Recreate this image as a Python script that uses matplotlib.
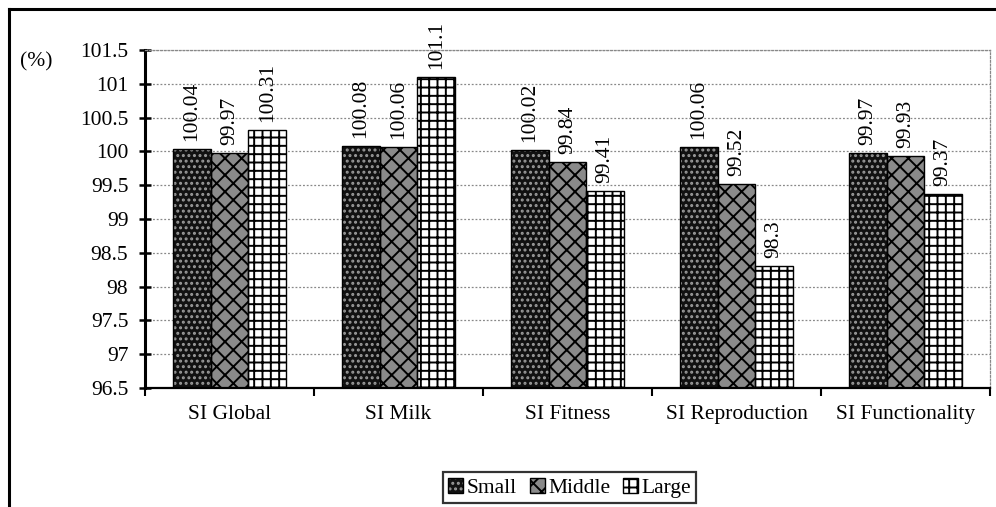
import matplotlib
matplotlib.use("Agg")
import matplotlib.pyplot as plt
import numpy as np
from matplotlib.lines import Line2D
from matplotlib.patches import Patch
from matplotlib.legend_handler import HandlerTuple

categories = ["SI Global", "SI Milk", "SI Fitness", "SI Reproduction", "SI Functionality"]
small = [100.04, 100.08, 100.02, 100.06, 99.97]
middle = [99.97, 100.06, 99.84, 99.52, 99.93]
large = [100.31, 101.1, 99.41, 98.3, 99.37]
series_names = ["Small", "Middle", "Large"]
y_ticks = [96.5, 97, 97.5, 98, 98.5, 99, 99.5, 100, 100.5, 101, 101.5]
y_tick_labels = ["96.5", "97", "97.5", "98", "98.5", "99", "99.5", "100", "100.5", "101", "101.5"]
value_labels = [["100.04", "100.08", "100.02", "100.06", "99.97"],
                ["99.97", "100.06", "99.84", "99.52", "99.93"],
                ["100.31", "101.1", "99.41", "98.3", "99.37"]]

plt.rcParams["font.family"] = ["Liberation Serif", "DejaVu Serif"]
plt.rcParams["hatch.linewidth"] = 1.4
FS = 15.5

fig = plt.figure(figsize=(9.96, 5.07), dpi=100)
ax = fig.add_axes([0.1456, 0.2347, 0.8484, 0.6667])

base = 96.5
x = np.arange(len(categories))
w = 0.223
styles = [
    dict(face="#111111", hatch="...", hcolor="#9a9a9a"),
    dict(face="#8a8a8a", hatch="xx", hcolor="black"),
    dict(face="white", hatch="++", hcolor="black"),
]

handles = []
for i, (vals, st) in enumerate(zip([small, middle, large], styles)):
    pos = x + (i - 1) * w
    heights = [v - base for v in vals]
    ax.bar(pos, heights, w, bottom=base, color=st["face"], edgecolor=st["hcolor"],
           hatch=st["hatch"], linewidth=0, zorder=2)
    ax.bar(pos, heights, w, bottom=base, fill=False, edgecolor="black",
           linewidth=1.0, zorder=3)
    for p, v, lab in zip(pos, vals, value_labels[i]):
        ax.text(p, v + 0.12, lab, rotation=90, ha="center", va="bottom",
                fontsize=FS, zorder=4)
    handles.append((Patch(facecolor=st["face"], edgecolor=st["hcolor"], hatch=st["hatch"], linewidth=0),
                    Patch(fill=False, edgecolor="black", linewidth=1.0)))

ax.set_xlim(-0.5, len(categories) - 0.5)
ax.set_ylim(96.5, 101.5)
ax.set_yticks(y_ticks)
ax.set_yticklabels(y_tick_labels, fontsize=FS)
ax.set_xticks(x)
ax.set_xticklabels(categories, fontsize=FS)
ax.set_xticks(np.arange(-0.5, len(categories)), minor=True)
ax.tick_params(axis="x", which="major", length=0, pad=12)
ax.tick_params(axis="x", which="minor", length=6, width=1.5, direction="out")
ax.tick_params(axis="y", which="major", length=8, width=1.8, direction="inout", pad=8)

ax.yaxis.grid(True, linestyle=(0, (1.5, 1.5)), color="#888888", linewidth=0.9, zorder=0)
ax.set_axisbelow(True)
for side in ["top", "right"]:
    ax.spines[side].set_linestyle((0, (1.5, 1.5)))
    ax.spines[side].set_color("#888888")
    ax.spines[side].set_linewidth(0.9)
ax.spines["left"].set_linewidth(2.2)
ax.spines["bottom"].set_linewidth(1.6)

fig.text(0.020, 0.878, "(%)", fontsize=FS, ha="left", va="center")

leg = fig.legend(handles, series_names, loc="center", bbox_to_anchor=(0.572, 0.038),
                 ncol=3, fontsize=FS, frameon=True, fancybox=False, shadow=False,
                 handler_map={tuple: HandlerTuple(ndivide=1)},
                 handlelength=0.7, handleheight=0.7, handletextpad=0.15,
                 columnspacing=0.6, borderpad=0.25)
leg.get_frame().set_edgecolor("black")
leg.get_frame().set_linewidth(1.6)

# outer chart frame
fig.add_artist(Line2D([0.009, 1.0], [0.983, 0.983], color="black", linewidth=2.2,
                      transform=fig.transFigure))
fig.add_artist(Line2D([0.009, 0.009], [0.0, 0.983], color="black", linewidth=2.2,
                      transform=fig.transFigure))

fig.savefig("out.png", dpi=100)
